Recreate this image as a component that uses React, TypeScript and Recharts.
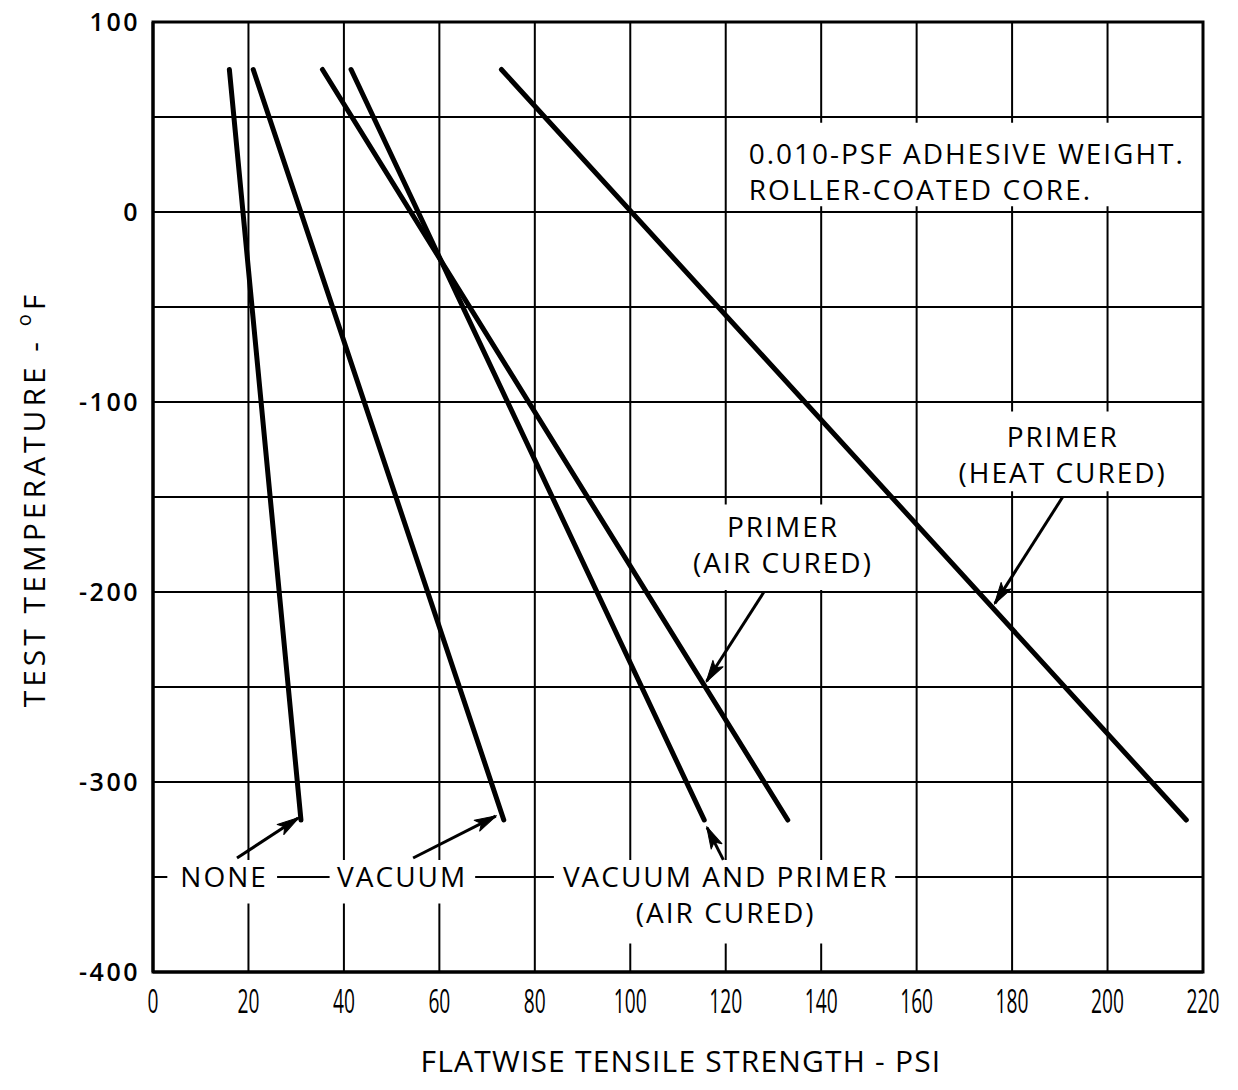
import React from "react";
import {
  LineChart,
  Line,
  XAxis,
  YAxis,
  CartesianGrid,
  ReferenceArea,
  ReferenceDot,
} from "recharts";

// Flatwise tensile strength vs test temperature, by surface treatment.
const PSI_TICKS = [0, 20, 40, 60, 80, 100, 120, 140, 160, 180, 200, 220];
const TEMP_TICKS = [100, 50, 0, -50, -100, -150, -200, -250, -300, -350, -400];

const NONE_PSI = [16, 31];
const NONE_TEMP = [75, -320];
const VACUUM_PSI = [21, 73.5];
const VACUUM_TEMP = [75, -320];
const VAC_PRIMER_PSI = [41.5, 115.5];
const VAC_PRIMER_TEMP = [75, -320];
const PRIMER_AIR_PSI = [35.5, 133];
const PRIMER_AIR_TEMP = [75, -320];
const PRIMER_HEAT_PSI = [73, 216.5];
const PRIMER_HEAT_TEMP = [75, -320];

// arrows: [tailPsi, tailTemp, tipPsi, tipTemp]
const ARROWS = [
  [17.6, -340, 30.4, -319],
  [54.5, -340, 71.8, -318],
  [119.5, -341, 116.1, -324],
  [128, -200, 116, -247],
  [190.6, -150, 176.4, -206],
];

// white boxes behind the notes: [x1, x2, y1, y2]
const NOTE_BOXES = [
  [121, 219.4, 3, 47],
  [169, 212, -105, -147],
  [110.5, 148.5, -154, -199],
  [3, 26, -341, -364],
  [37, 67.5, -341, -364],
  [84, 155.5, -341, -385],
];

const NOTES: { psi: number; temp: number; anchor: "start" | "middle"; lines: string[] }[] = [
  { psi: 124.8, temp: 30.5, anchor: "start", lines: ["0.010-PSF ADHESIVE WEIGHT.", "ROLLER-COATED CORE."] },
  { psi: 190.6, temp: -118.5, anchor: "middle", lines: ["PRIMER", "(HEAT CURED)"] },
  { psi: 132, temp: -166, anchor: "middle", lines: ["PRIMER", "(AIR CURED)"] },
  { psi: 14.9, temp: -350, anchor: "middle", lines: ["NONE"] },
  { psi: 52.2, temp: -350, anchor: "middle", lines: ["VACUUM"] },
  { psi: 120, temp: -350, anchor: "middle", lines: ["VACUUM AND PRIMER", "(AIR CURED)"] },
];

const LABEL_FONT = "'Open Sans', Lato, sans-serif";

const CHART_W = 1238;
const CHART_H = 1090;
const MARGIN = { top: 22, right: 35, bottom: 0, left: 0 };
const Y_AXIS_W = 153;
const X_AXIS_H = 118;
const PLOT_W = CHART_W - Y_AXIS_W - MARGIN.right;
const PLOT_H = CHART_H - MARGIN.top - X_AXIS_H;
const PX_PER_PSI = PLOT_W / 220;
const PX_PER_DEG = PLOT_H / 500;

function toPoints(psi: number[], temp: number[]) {
  return psi.map((p, i) => ({ psi: p, temp: temp[i] }));
}

const SERIES = [
  toPoints(NONE_PSI, NONE_TEMP),
  toPoints(VACUUM_PSI, VACUUM_TEMP),
  toPoints(VAC_PRIMER_PSI, VAC_PRIMER_TEMP),
  toPoints(PRIMER_AIR_PSI, PRIMER_AIR_TEMP),
  toPoints(PRIMER_HEAT_PSI, PRIMER_HEAT_TEMP),
];

function XTick(props: any) {
  const { x, y, payload } = props;
  return (
    <text
      x={x}
      y={y + 41}
      textAnchor="middle"
      fontFamily={LABEL_FONT}
      fontSize={32}
      fill="#000"
      transform={`translate(${x} 0) scale(0.6 1) translate(${-x} 0)`}
    >
      {payload.value}
    </text>
  );
}

function YTick(props: any) {
  const { x, y, payload } = props;
  if (payload.value % 100 !== 0) return <g />;
  return (
    <text
      x={x + 2}
      y={y + 9}
      textAnchor="end"
      fontFamily={LABEL_FONT}
      fontWeight={600}
      fontSize={25}
      letterSpacing={2.5}
      fill="#000"
    >
      {payload.value}
    </text>
  );
}

function noteShape(lines: string[], anchor: "start" | "middle") {
  return (p: any) => (
    <text
      x={p.cx}
      y={p.cy}
      textAnchor={anchor}
      fontFamily={LABEL_FONT}
      fontSize={28}
      letterSpacing={2}
      fill="#000"
    >
      {lines.map((l, i) => (
        <tspan key={i} x={p.cx} dy={i === 0 ? 10 : 36}>
          {l}
        </tspan>
      ))}
    </text>
  );
}

// arrowhead placed at the tip of each arrow, turned along the shaft
function arrowHeadShape(arrow: number[]) {
  const dx = (arrow[2] - arrow[0]) * PX_PER_PSI;
  const dy = -(arrow[3] - arrow[1]) * PX_PER_DEG;
  const ang = (Math.atan2(dy, dx) * 180) / Math.PI;
  return (p: any) => (
    <path
      d="M1,0 L-21,-6 L-16,0 L-21,6 Z"
      fill="#000"
      stroke="#000"
      strokeWidth={1}
      strokeLinejoin="round"
      transform={`translate(${p.cx} ${p.cy}) rotate(${ang})`}
    />
  );
}

export default function App() {
  return (
    <div style={{ position: "absolute", left: 0, top: 0, background: "#fff" }}>
      <LineChart width={CHART_W} height={CHART_H} margin={MARGIN}>
        <CartesianGrid stroke="#000" strokeWidth={2} />
        <XAxis
          dataKey="psi"
          type="number"
          domain={[0, 220]}
          ticks={PSI_TICKS}
          allowDataOverflow
          height={X_AXIS_H}
          tickSize={0}
          tickMargin={0}
          axisLine={{ stroke: "#000", strokeWidth: 3 }}
          tickLine={false}
          tick={<XTick />}
          label={{
            content: (p: any) => (
              <text
                x={p.viewBox.x + p.viewBox.width / 2 + 3}
                y={p.viewBox.y + 100}
                textAnchor="middle"
                fontFamily={LABEL_FONT}
                fontSize={30}
                letterSpacing={1.2}
                fill="#000"
              >
                FLATWISE TENSILE STRENGTH - PSI
              </text>
            ),
          }}
        />
        <YAxis
          dataKey="temp"
          type="number"
          domain={[-400, 100]}
          ticks={TEMP_TICKS}
          allowDataOverflow
          width={Y_AXIS_W}
          tickSize={0}
          tickMargin={15}
          axisLine={{ stroke: "#000", strokeWidth: 3 }}
          tickLine={false}
          tick={<YTick />}
          label={{
            content: (p: any) => {
              const cx = p.viewBox.x + 33;
              const cy = p.viewBox.y + p.viewBox.height / 2 + 2;
              return (
                <text
                  x={cx}
                  y={cy}
                  textAnchor="middle"
                  dominantBaseline="central"
                  fontFamily={LABEL_FONT}
                  fontSize={30}
                  letterSpacing={4}
                  fill="#000"
                  transform={`rotate(-90 ${cx} ${cy})`}
                >
                  TEST TEMPERATURE -{" "}
                  <tspan dy={-10} fontSize={20}>o</tspan>
                  <tspan dy={10}>F</tspan>
                </text>
              );
            },
          }}
        />
        <ReferenceArea
          x1={0}
          x2={220}
          y1={-400}
          y2={100}
          fill="none"
          stroke="#000"
          strokeWidth={3}
        />
        {NOTE_BOXES.map((b, i) => (
          <ReferenceArea
            key={`box${i}`}
            x1={b[0]}
            x2={b[1]}
            y1={b[2]}
            y2={b[3]}
            fill="#fff"
            fillOpacity={1}
            stroke="none"
          />
        ))}
        {SERIES.map((d, i) => (
          <Line
            key={`s${i}`}
            data={d}
            dataKey="temp"
            stroke="#000"
            strokeWidth={5}
            strokeLinecap="round"
            dot={false}
            activeDot={false}
            isAnimationActive={false}
          />
        ))}
        {ARROWS.map((a, i) => (
          <Line
            key={`a${i}`}
            data={[
              { psi: a[0], temp: a[1] },
              { psi: a[2], temp: a[3] },
            ]}
            dataKey="temp"
            stroke="#000"
            strokeWidth={3}
            dot={false}
            activeDot={false}
            isAnimationActive={false}
          />
        ))}
        {ARROWS.map((a, i) => (
          <ReferenceDot
            key={`h${i}`}
            x={a[2]}
            y={a[3]}
            r={0}
            shape={arrowHeadShape(a)}
          />
        ))}
        {NOTES.map((n, i) => (
          <ReferenceDot
            key={`n${i}`}
            x={n.psi}
            y={n.temp}
            r={0}
            shape={noteShape(n.lines, n.anchor)}
          />
        ))}
      </LineChart>
    </div>
  );
}
